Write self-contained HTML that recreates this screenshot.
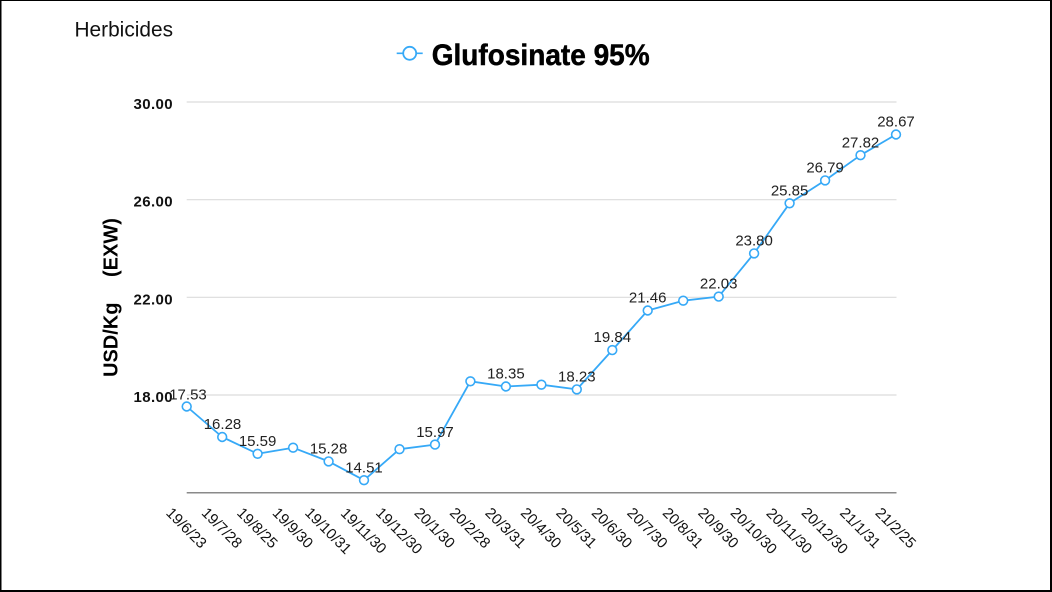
<!DOCTYPE html>
<html>
<head>
<meta charset="utf-8">
<style>
  html, body { margin: 0; padding: 0; background: #fff; }
  body { width: 1052px; height: 592px; overflow: hidden; }
  svg { display: block; }
  text { font-family: "Liberation Sans", "Noto Sans CJK JP", sans-serif; }
</style>
</head>
<body>
<svg width="1052" height="592" viewBox="0 0 1052 592" xmlns="http://www.w3.org/2000/svg">
  <rect x="0" y="0" width="1052" height="592" fill="#fff"/>
  <!-- borders -->
  <rect x="0" y="0" width="1052" height="1" fill="#000"/>
  <rect x="0" y="0" width="1.5" height="592" fill="#000"/>
  <rect x="0" y="590" width="1052" height="2" fill="#000"/>
  <rect x="1050" y="0" width="2" height="592" fill="#000"/>

  <!-- header -->
  <text x="74.5" y="36.7" font-size="21" fill="#111" textLength="98.5" lengthAdjust="spacingAndGlyphs">Herbicides</text>
  <line x1="396.7" y1="53.3" x2="422.7" y2="53.3" stroke="#36a9f7" stroke-width="1.6"/>
  <circle cx="409.7" cy="53.3" r="6.5" fill="#fff" stroke="#36a9f7" stroke-width="1.8"/>
  <text x="431.7" y="65" font-size="30" font-weight="bold" fill="#000" stroke="#000" stroke-width="0.5" textLength="218" lengthAdjust="spacingAndGlyphs">Glufosinate 95%</text>

  <!-- gridlines -->
  <g stroke="#dcdcdc" stroke-width="1.2">
    <line x1="186.7" y1="102" x2="896.5" y2="102"/>
    <line x1="186.7" y1="199.7" x2="896.5" y2="199.7"/>
    <line x1="186.7" y1="297.3" x2="896.5" y2="297.3"/>
    <line x1="186.7" y1="395" x2="896.5" y2="395"/>
  </g>
  <line x1="186.7" y1="492.7" x2="896.5" y2="492.7" stroke="#8a8a8a" stroke-width="1.5"/>

  <!-- y tick labels -->
  <g font-size="15" font-weight="bold" fill="#111" text-anchor="end" letter-spacing="0.4">
    <text x="173" y="109">30.00</text>
    <text x="173" y="206.7">26.00</text>
    <text x="173" y="304.3">22.00</text>
    <text x="173" y="402">18.00</text>
  </g>

  <!-- y axis title -->
  <g font-size="20" font-weight="bold" fill="#000">
    <text transform="translate(117.5,377) rotate(-90)">USD/Kg</text>
    <text transform="translate(117.5,277) rotate(-90)">(EXW)</text>
  </g>

  <!-- series line -->
  <polyline fill="none" stroke="#36a9f7" stroke-width="1.8" stroke-linejoin="round"
    points="186.7,406.5 222.2,437.0 257.6,453.8 293.1,447.7 328.6,461.4 364.0,480.2 399.5,449.2 435.0,444.6 470.4,381.3 505.9,386.5 541.4,384.7 576.8,389.4 612.3,350.1 647.7,310.5 683.2,300.7 718.7,296.6 754.1,253.4 789.6,203.3 825.1,180.4 860.5,155.2 896.0,134.5"/>

  <!-- markers -->
  <g fill="#fff" stroke="#36a9f7" stroke-width="1.6">
    <circle cx="186.7" cy="406.5" r="4.4"/>
    <circle cx="222.2" cy="437.0" r="4.4"/>
    <circle cx="257.6" cy="453.8" r="4.4"/>
    <circle cx="293.1" cy="447.7" r="4.4"/>
    <circle cx="328.6" cy="461.4" r="4.4"/>
    <circle cx="364.0" cy="480.2" r="4.4"/>
    <circle cx="399.5" cy="449.2" r="4.4"/>
    <circle cx="435.0" cy="444.6" r="4.4"/>
    <circle cx="470.4" cy="381.3" r="4.4"/>
    <circle cx="505.9" cy="386.5" r="4.4"/>
    <circle cx="541.4" cy="384.7" r="4.4"/>
    <circle cx="576.8" cy="389.4" r="4.4"/>
    <circle cx="612.3" cy="350.1" r="4.4"/>
    <circle cx="647.7" cy="310.5" r="4.4"/>
    <circle cx="683.2" cy="300.7" r="4.4"/>
    <circle cx="718.7" cy="296.6" r="4.4"/>
    <circle cx="754.1" cy="253.4" r="4.4"/>
    <circle cx="789.6" cy="203.3" r="4.4"/>
    <circle cx="825.1" cy="180.4" r="4.4"/>
    <circle cx="860.5" cy="155.2" r="4.4"/>
    <circle cx="896.0" cy="134.5" r="4.4"/>
  </g>

  <!-- data labels -->
  <g font-size="15" fill="#222" text-anchor="middle">
    <text x="188" y="399.5">17.53</text>
    <text x="222.5" y="429">16.28</text>
    <text x="257.6" y="446">15.59</text>
    <text x="328.6" y="453.5">15.28</text>
    <text x="364.0" y="472.5">14.51</text>
    <text x="435.0" y="436.8">15.97</text>
    <text x="505.9" y="378.5">18.35</text>
    <text x="576.8" y="381.5">18.23</text>
    <text x="612.3" y="342.2">19.84</text>
    <text x="647.7" y="302.5">21.46</text>
    <text x="718.7" y="288.7">22.03</text>
    <text x="754.1" y="245.5">23.80</text>
    <text x="789.6" y="195.4">25.85</text>
    <text x="825.1" y="172.5">26.79</text>
    <text x="860.5" y="147.3">27.82</text>
    <text x="896.0" y="126.6">28.67</text>
  </g>

  <!-- x labels (rotated 45deg) -->
  <g font-size="15" fill="#111" text-anchor="middle">
    <text transform="translate(186.7,527.6) rotate(45)" dy="5.4">19/6/23</text>
    <text transform="translate(222.2,527.6) rotate(45)" dy="5.4">19/7/28</text>
    <text transform="translate(257.6,527.6) rotate(45)" dy="5.4">19/8/25</text>
    <text transform="translate(293.1,527.6) rotate(45)" dy="5.4">19/9/30</text>
    <text transform="translate(328.6,530.5) rotate(45)" dy="5.4">19/10/31</text>
    <text transform="translate(364.0,530.5) rotate(45)" dy="5.4">19/11/30</text>
    <text transform="translate(399.5,530.5) rotate(45)" dy="5.4">19/12/30</text>
    <text transform="translate(435.0,527.6) rotate(45)" dy="5.4">20/1/30</text>
    <text transform="translate(470.4,527.6) rotate(45)" dy="5.4">20/2/28</text>
    <text transform="translate(505.9,527.6) rotate(45)" dy="5.4">20/3/31</text>
    <text transform="translate(541.4,527.6) rotate(45)" dy="5.4">20/4/30</text>
    <text transform="translate(576.8,527.6) rotate(45)" dy="5.4">20/5/31</text>
    <text transform="translate(612.3,527.6) rotate(45)" dy="5.4">20/6/30</text>
    <text transform="translate(647.7,527.6) rotate(45)" dy="5.4">20/7/30</text>
    <text transform="translate(683.2,527.6) rotate(45)" dy="5.4">20/8/31</text>
    <text transform="translate(718.7,527.6) rotate(45)" dy="5.4">20/9/30</text>
    <text transform="translate(754.1,530.5) rotate(45)" dy="5.4">20/10/30</text>
    <text transform="translate(789.6,530.5) rotate(45)" dy="5.4">20/11/30</text>
    <text transform="translate(825.1,530.5) rotate(45)" dy="5.4">20/12/30</text>
    <text transform="translate(860.5,527.6) rotate(45)" dy="5.4">21/1/31</text>
    <text transform="translate(896.0,527.6) rotate(45)" dy="5.4">21/2/25</text>
  </g>
</svg>
</body>
</html>
